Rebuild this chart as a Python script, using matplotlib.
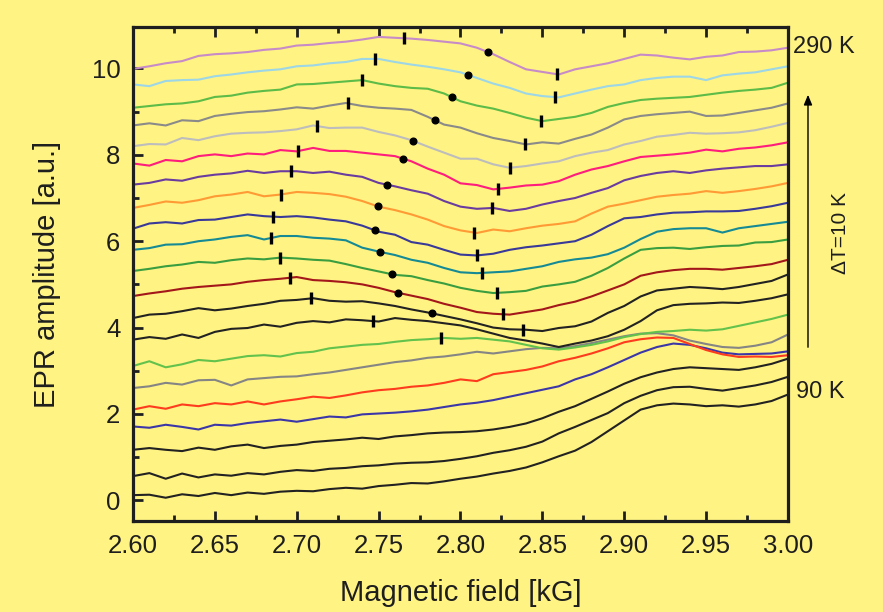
import numpy as np
import matplotlib
matplotlib.use("Agg")
import matplotlib.pyplot as plt
from matplotlib.ticker import MultipleLocator

# ---------------- data ----------------
field = np.linspace(2.60, 3.00, 41)  # magnetic field [kG]
temperatures = list(range(90, 300, 10))  # K

trace_090K = [0.12,0.13,0.06,0.14,0.10,0.17,0.12,0.18,0.15,0.20,0.22,0.21,0.26,0.29,0.27,0.33,0.36,0.40,0.39,0.44,0.50,0.55,0.62,0.68,0.76,0.88,1.02,1.15,1.35,1.60,1.85,2.10,2.20,2.24,2.22,2.18,2.20,2.17,2.22,2.30,2.45]
trace_100K = [0.56,0.63,0.50,0.62,0.53,0.60,0.57,0.63,0.60,0.66,0.70,0.68,0.73,0.75,0.79,0.81,0.85,0.87,0.88,0.91,0.96,1.02,1.10,1.16,1.24,1.36,1.55,1.70,1.86,2.02,2.25,2.42,2.55,2.62,2.63,2.58,2.54,2.60,2.66,2.74,2.86]
trace_110K = [1.17,1.21,1.17,1.14,1.22,1.17,1.25,1.29,1.21,1.26,1.29,1.35,1.38,1.41,1.45,1.42,1.48,1.51,1.55,1.57,1.58,1.60,1.64,1.70,1.78,1.90,2.05,2.18,2.35,2.52,2.70,2.85,2.96,3.04,3.08,3.06,3.04,3.02,3.08,3.16,3.28]
trace_120K = [1.71,1.68,1.75,1.70,1.64,1.75,1.73,1.79,1.83,1.87,1.82,1.88,1.94,1.92,1.99,2.01,2.03,2.06,2.10,2.16,2.22,2.26,2.32,2.40,2.48,2.56,2.64,2.80,2.92,3.08,3.25,3.42,3.55,3.63,3.60,3.52,3.42,3.38,3.39,3.40,3.45]
trace_130K = [2.10,2.18,2.12,2.22,2.18,2.25,2.22,2.29,2.22,2.29,2.34,2.40,2.37,2.43,2.50,2.55,2.58,2.63,2.66,2.72,2.80,2.76,2.92,2.97,3.02,3.10,3.22,3.30,3.40,3.52,3.66,3.73,3.77,3.76,3.62,3.48,3.38,3.32,3.33,3.32,3.36]
trace_140K = [2.60,2.64,2.72,2.68,2.78,2.79,2.66,2.80,2.83,2.86,2.87,2.92,2.96,3.02,3.08,3.14,3.20,3.24,3.30,3.33,3.38,3.44,3.40,3.45,3.50,3.53,3.52,3.57,3.64,3.72,3.80,3.86,3.87,3.82,3.70,3.62,3.55,3.53,3.58,3.66,3.84]
trace_150K = [3.11,3.22,3.08,3.15,3.25,3.22,3.28,3.34,3.36,3.33,3.41,3.44,3.52,3.56,3.60,3.62,3.67,3.71,3.73,3.76,3.74,3.76,3.72,3.68,3.60,3.52,3.49,3.54,3.60,3.68,3.78,3.85,3.90,3.92,3.95,3.93,3.96,4.04,4.12,4.20,4.30]
trace_160K = [3.72,3.78,3.74,3.84,3.76,3.90,3.97,3.99,4.07,4.02,4.11,4.15,4.12,4.19,4.17,4.14,4.22,4.18,4.15,4.10,4.05,3.96,3.86,3.76,3.70,3.63,3.55,3.63,3.70,3.80,3.95,4.15,4.40,4.52,4.55,4.56,4.58,4.57,4.62,4.68,4.77]
trace_170K = [4.22,4.30,4.32,4.38,4.45,4.40,4.44,4.50,4.55,4.62,4.64,4.68,4.62,4.60,4.61,4.56,4.50,4.42,4.35,4.27,4.19,4.10,4.00,3.96,3.95,3.92,3.99,4.03,4.14,4.34,4.50,4.72,4.86,4.90,4.94,4.92,4.89,4.94,5.01,5.08,5.23]
trace_180K = [4.73,4.79,4.84,4.90,4.94,4.97,5.00,5.06,5.10,5.13,5.17,5.10,5.08,5.05,5.00,4.92,4.82,4.74,4.66,4.55,4.46,4.36,4.32,4.30,4.36,4.42,4.52,4.60,4.72,4.86,5.00,5.20,5.28,5.33,5.36,5.36,5.34,5.38,5.42,5.47,5.57]
trace_190K = [5.31,5.36,5.42,5.46,5.52,5.50,5.56,5.60,5.58,5.62,5.60,5.57,5.55,5.47,5.38,5.30,5.22,5.19,5.10,5.02,4.92,4.85,4.80,4.82,4.85,4.95,5.00,5.06,5.20,5.38,5.60,5.80,5.84,5.85,5.82,5.86,5.89,5.90,5.97,5.98,6.04]
trace_200K = [5.80,5.84,5.92,5.93,6.00,6.04,6.10,6.14,6.04,6.12,6.12,6.08,6.06,6.02,5.85,5.76,5.68,5.57,5.50,5.38,5.28,5.26,5.28,5.30,5.36,5.42,5.52,5.58,5.62,5.70,5.85,6.05,6.22,6.28,6.30,6.30,6.20,6.30,6.35,6.40,6.45]
trace_210K = [6.29,6.41,6.44,6.41,6.49,6.50,6.56,6.62,6.58,6.56,6.58,6.55,6.50,6.46,6.36,6.22,6.15,5.98,5.92,5.80,5.69,5.67,5.71,5.80,5.86,5.90,5.95,6.00,6.15,6.35,6.53,6.56,6.62,6.66,6.67,6.69,6.69,6.70,6.75,6.81,6.89]
trace_220K = [6.77,6.84,6.92,6.89,6.95,7.04,7.08,7.14,7.04,7.08,7.14,7.12,7.09,7.03,6.93,6.80,6.72,6.62,6.50,6.35,6.25,6.19,6.27,6.23,6.30,6.36,6.40,6.46,6.64,6.80,6.87,6.95,7.03,7.07,7.10,7.16,7.12,7.16,7.21,7.27,7.35]
trace_230K = [7.31,7.35,7.43,7.40,7.49,7.54,7.57,7.63,7.58,7.62,7.62,7.58,7.61,7.54,7.49,7.35,7.27,7.18,7.10,6.93,6.80,6.75,6.77,6.70,6.75,6.85,6.93,7.00,7.12,7.23,7.41,7.51,7.58,7.62,7.58,7.64,7.68,7.71,7.74,7.74,7.78]
trace_240K = [7.80,7.75,7.88,7.85,7.97,8.01,7.97,8.03,8.01,8.11,8.08,8.16,8.09,8.09,8.05,8.01,7.97,7.85,7.68,7.54,7.34,7.30,7.20,7.24,7.29,7.31,7.39,7.54,7.66,7.74,7.85,7.95,7.98,8.01,8.05,8.12,8.08,8.14,8.17,8.22,8.29]
trace_250K = [8.20,8.25,8.24,8.39,8.34,8.43,8.49,8.51,8.52,8.55,8.59,8.68,8.62,8.63,8.63,8.53,8.45,8.34,8.19,8.05,7.91,7.91,7.78,7.70,7.74,7.80,7.85,7.97,8.05,8.11,8.24,8.32,8.42,8.46,8.51,8.49,8.50,8.52,8.57,8.65,8.74]
trace_260K = [8.68,8.73,8.68,8.80,8.78,8.90,8.95,8.99,9.01,9.05,9.10,9.07,9.14,9.20,9.13,9.09,9.07,9.04,8.88,8.70,8.63,8.50,8.39,8.32,8.24,8.29,8.26,8.37,8.47,8.63,8.82,8.90,8.94,8.97,9.00,8.90,8.91,8.97,9.03,9.09,9.19]
trace_270K = [9.09,9.13,9.17,9.19,9.24,9.34,9.37,9.44,9.48,9.51,9.63,9.64,9.67,9.70,9.73,9.65,9.59,9.55,9.53,9.42,9.24,9.14,9.07,8.97,8.86,8.78,8.83,8.88,8.97,9.11,9.20,9.27,9.30,9.32,9.34,9.39,9.44,9.48,9.51,9.55,9.67]
trace_280K = [9.63,9.59,9.71,9.73,9.74,9.82,9.86,9.91,9.95,9.98,10.05,10.07,10.12,10.15,10.22,10.22,10.15,10.09,10.04,9.98,9.91,9.78,9.65,9.55,9.42,9.36,9.33,9.42,9.51,9.59,9.63,9.73,9.78,9.81,9.81,9.73,9.84,9.88,9.91,9.98,10.05]
trace_290K = [9.99,10.05,10.12,10.17,10.29,10.33,10.35,10.38,10.43,10.46,10.53,10.55,10.59,10.62,10.67,10.73,10.71,10.69,10.66,10.62,10.58,10.48,10.33,10.15,9.98,9.92,9.86,9.98,10.05,10.12,10.22,10.32,10.30,10.25,10.21,10.27,10.30,10.38,10.39,10.42,10.48]

traces = [trace_090K, trace_100K, trace_110K, trace_120K, trace_130K, trace_140K,
          trace_150K, trace_160K, trace_170K, trace_180K, trace_190K, trace_200K,
          trace_210K, trace_220K, trace_230K, trace_240K, trace_250K, trace_260K,
          trace_270K, trace_280K, trace_290K]

line_colors = ["#222222", "#222222", "#222222", "#3C37A8", "#FF3B1E", "#858585",
               "#62C24C", "#222222", "#222222", "#A3171B", "#3A9E40", "#168A94",
               "#393999", "#FF9A35", "#6B3C9F", "#FF1C7C", "#BDBDBD", "#8A8A8A",
               "#5DBB47", "#9DD6E6", "#C78BC8"]

# feature positions (field, kG) marked on the traces, listed by trace index
left_max_traces = [20, 19, 18, 17, 16, 15, 14, 13, 12, 11, 10, 9, 8, 7, 6]
left_max_field = [2.7655, 2.7475, 2.7398, 2.7316, 2.7124, 2.7008, 2.6965, 2.6901,
                  2.6855, 2.6840, 2.6898, 2.6956, 2.7087, 2.7463, 2.7881]
mid_traces = [20, 19, 18, 17, 16, 15, 14, 13, 12, 11, 10, 9, 8]
mid_field = [2.8168, 2.8046, 2.7951, 2.7844, 2.7710, 2.7649, 2.7551, 2.7496,
             2.7478, 2.7508, 2.7582, 2.7618, 2.7826]
right_min_traces = [20, 19, 18, 17, 16, 15, 14, 13, 12, 11, 10, 9, 8]
right_min_field = [2.8589, 2.8577, 2.8492, 2.8394, 2.8302, 2.8229, 2.8192, 2.8082,
                   2.8101, 2.8131, 2.8223, 2.8258, 2.8382]

# ---------------- style ----------------
BG = "#FFF383"
INK = "#1E1E1E"
plt.rcParams["font.family"] = ["Liberation Sans", "DejaVu Sans"]

fig = plt.figure(figsize=(8.83, 6.12), dpi=100, facecolor=BG)
ax = fig.add_axes([0.1506, 0.1479, 0.7418, 0.808])
ax.set_facecolor(BG)

for vals, col in zip(traces, line_colors):
    ax.plot(field, vals, color=col, lw=1.5, solid_joinstyle="round", zorder=2)

def on_trace(idx, xf):
    return np.interp(xf, field, traces[idx])

ax.plot(left_max_field, [on_trace(i, x) for i, x in zip(left_max_traces, left_max_field)],
        ls="none", marker="|", ms=8, mew=2.4, color="black", zorder=3)
ax.plot(mid_field, [on_trace(i, x) for i, x in zip(mid_traces, mid_field)],
        ls="none", marker="o", ms=4.8, color="black", zorder=3)
ax.plot(right_min_field, [on_trace(i, x) for i, x in zip(right_min_traces, right_min_field)],
        ls="none", marker="|", ms=8, mew=2.4, color="black", zorder=3)

ax.set_xlim(2.60, 3.00)
ax.set_ylim(-0.49, 10.96)
ax.xaxis.set_major_locator(MultipleLocator(0.05))
ax.xaxis.set_minor_locator(MultipleLocator(0.025))
ax.yaxis.set_major_locator(MultipleLocator(2))
ax.yaxis.set_minor_locator(MultipleLocator(1))
ax.set_xticks([2.60, 2.65, 2.70, 2.75, 2.80, 2.85, 2.90, 2.95, 3.00])
ax.set_xticklabels(["2.60", "2.65", "2.70", "2.75", "2.80", "2.85", "2.90", "2.95", "3.00"])

for sp in ax.spines.values():
    sp.set_linewidth(2.3)
    sp.set_color(INK)

ax.tick_params(axis="both", which="both", direction="in", colors=INK,
               top=True, right=False, labelsize=18.5, width=2.0)
ax.tick_params(axis="both", which="major", length=7, pad=9)
ax.tick_params(axis="both", which="minor", length=4)

ax.set_xlabel("Magnetic field [kG]", fontsize=21, color=INK, labelpad=15)
ax.set_ylabel("EPR amplitude [a.u.]", fontsize=21, color=INK, labelpad=22)

def fx(px):
    return px / 883.0

def fy(py):
    return 1.0 - py / 612.0

fig.text(fx(793), fy(47), "290 K", fontsize=17, color=INK, ha="left", va="center")
fig.text(fx(796), fy(392), "90 K", fontsize=17, color=INK, ha="left", va="center")
fig.text(fx(840), fy(233), "\u0394T=10 K", fontsize=15, color=INK, ha="center",
         va="center", rotation=90)
fig.patches.append(matplotlib.patches.FancyArrowPatch(
    (fx(808), fy(350)), (fx(808), fy(92)), transform=fig.transFigure,
    arrowstyle="-|>,head_length=6,head_width=2.5", lw=1.0, color="black"))

fig.savefig("out.png", dpi=100, facecolor=BG)
